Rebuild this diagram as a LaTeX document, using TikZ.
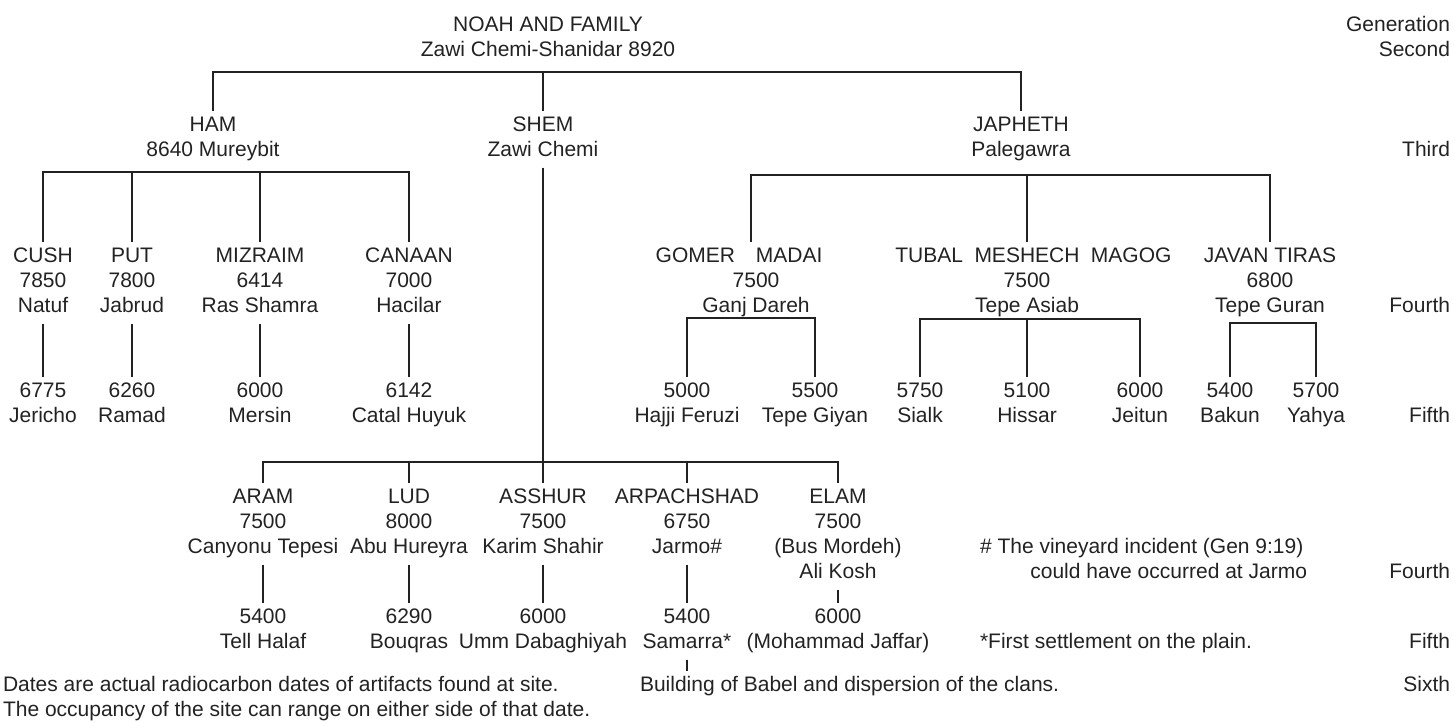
\documentclass[tikz,border=0pt]{standalone}
\usepackage{fontspec}
\setmainfont{Liberation Sans}
\definecolor{ink}{HTML}{222222}
\newcommand\fsz{\fontsize{15.75pt}{18.75pt}\selectfont}
\begin{document}
\begin{tikzpicture}[x=0.75pt,y=-0.75pt,
  every node/.style={font=\fsz,text=ink,inner sep=0pt,outer xsep=0pt,outer ysep=2.5pt},
  fam/.style={align=center,anchor=north},
  gen/.style={anchor=base east},
  note/.style={anchor=base west},
  link/.style={draw=ink,line width=1.4pt}]
\useasboundingbox (0,0) rectangle (1455,722);

% generation column
\node[gen] (g0) at (1450,31.5) {Generation};
\node[gen] (g2) at (1450,56.5) {Second};
\node[gen] (g3) at (1450,156.5) {Third};
\node[gen] (g4) at (1450,312.5) {Fourth};
\node[gen] (g5) at (1450,422.5) {Fifth};
\node[gen] (g4b) at (1450,578.5) {Fourth};
\node[gen] (g5b) at (1450,648.5) {Fifth};
\node[gen] (g6) at (1450,691.5) {Sixth};

% second generation
\node[fam] (noah) at (548,11) {\strut NOAH AND FAMILY\\\strut Zawi Chemi-Shanidar 8920};

% third generation
\node[fam] (ham) at (213,111) {\strut HAM\\\strut 8640 Mureybit};
\node[fam] (shem) at (543,111) {\strut SHEM\\\strut Zawi Chemi};
\node[fam] (japh) at (1021,111) {\strut JAPHETH\\\strut Palegawra};

% fourth generation (Ham, Japheth)
\node[fam] (cush) at (43,242) {\strut CUSH\\\strut 7850\\\strut Natuf};
\node[fam] (put) at (132,242) {\strut PUT\\\strut 7800\\\strut Jabrud};
\node[fam] (mizraim) at (260,242) {\strut MIZRAIM\\\strut 6414\\\strut Ras Shamra};
\node[fam] (canaan) at (409,242) {\strut CANAAN\\\strut 7000\\\strut Hacilar};
\node[fam] (gomer) at (756,242) {\strut\makebox[0pt][r]{GOMER\hspace{15.75pt}}\makebox[0pt][l]{MADAI}\\\strut 7500\\\strut Ganj Dareh};
\node[fam] (tubal) at (1027,242) {\strut\makebox[0pt][r]{TUBAL\hspace{8.6pt}}MESHECH\makebox[0pt][l]{\hspace{8.6pt}MAGOG}\\\strut 7500\\\strut Tepe Asiab};
\node[fam] (javan) at (1270,242) {\strut JAVAN TIRAS\\\strut 6800\\\strut Tepe Guran};

% fifth generation (Ham, Japheth)
\node[fam] (jericho) at (43,377) {\strut 6775\\\strut Jericho};
\node[fam] (ramad) at (132,377) {\strut 6260\\\strut Ramad};
\node[fam] (mersin) at (260,377) {\strut 6000\\\strut Mersin};
\node[fam] (catal) at (409,377) {\strut 6142\\\strut Catal Huyuk};
\node[fam] (hajji) at (687,377) {\strut 5000\\\strut Hajji Feruzi};
\node[fam] (giyan) at (815,377) {\strut 5500\\\strut Tepe Giyan};
\node[fam] (sialk) at (920,377) {\strut 5750\\\strut Sialk};
\node[fam] (hissar) at (1027,377) {\strut 5100\\\strut Hissar};
\node[fam] (jeitun) at (1140,377) {\strut 6000\\\strut Jeitun};
\node[fam] (bakun) at (1230,377) {\strut 5400\\\strut Bakun};
\node[fam] (yahya) at (1316,377) {\strut 5700\\\strut Yahya};

% fourth generation (Shem)
\node[fam] (aram) at (263,483) {\strut ARAM\\\strut 7500\\\strut Canyonu Tepesi};
\node[fam] (lud) at (409,483) {\strut LUD\\\strut 8000\\\strut Abu Hureyra};
\node[fam] (asshur) at (543,483) {\strut ASSHUR\\\strut 7500\\\strut Karim Shahir};
\node[fam] (arpa) at (687,483) {\strut ARPACHSHAD\\\strut 6750\\\strut Jarmo\#};
\node[fam] (elam) at (838,483) {\strut ELAM\\\strut 7500\\\strut (Bus Mordeh)\\\strut Ali Kosh};

% fifth generation (Shem)
\node[fam] (halaf) at (263,603) {\strut 5400\\\strut Tell Halaf};
\node[fam] (bouqras) at (409,603) {\strut 6290\\\strut Bouqras};
\node[fam] (umm) at (543,603) {\strut 6000\\\strut Umm Dabaghiyah};
\node[fam] (samarra) at (687,603) {\strut 5400\\\strut Samarra*};
\node[fam] (jaffar) at (838,603) {\strut 6000\\\strut (Mohammad Jaffar)};

% sixth generation and notes
\node[note] (babel) at (640,691.5) {\strut Building of Babel and dispersion of the clans.};
\node[note] (vine1) at (980,553.5) {\# The vineyard incident (Gen 9:19)};
\node[anchor=base east] (vine2) at (1307,578.5) {could have occurred at Jarmo};
\node[note] (settle) at (980,648.5) {*First settlement on the plain.};
\node[anchor=north west,align=left] (dates) at (3,671) {\strut Dates are actual radiocarbon dates of artifacts found at site.\\\strut The occupancy of the site can range on either side of that date.};

% connectors
\coordinate (top) at (543,72);
\draw[link] (ham.north) -- (ham.north |- top) -- (japh.north |- top) -- (japh.north);
\draw[link] (top) -- (shem.north);

\coordinate (hb) at (213,172);
\draw[link] (cush.north) -- (cush.north |- hb) -- (canaan.north |- hb) -- (canaan.north);
\draw[link] (put.north) -- (put.north |- hb);
\draw[link] (mizraim.north) -- (mizraim.north |- hb);

\coordinate (jb) at (1021,175);
\coordinate (gtop) at ([xshift=-3.5pt]gomer.north);
\draw[link] (gtop) -- (gtop |- jb) -- (javan.north |- jb) -- (javan.north);
\draw[link] (tubal.north) -- (tubal.north |- jb);

\draw[link] (cush.south) -- (jericho.north);
\draw[link] (put.south) -- (ramad.north);
\draw[link] (mizraim.south) -- (mersin.north);
\draw[link] (canaan.south) -- (catal.north);

\coordinate (gb) at (750,318);
\draw[link] (hajji.north) -- (hajji.north |- gb) -- (giyan.north |- gb) -- (giyan.north);
\coordinate (tb) at (1027,319);
\draw[link] (sialk.north) -- (sialk.north |- tb) -- (jeitun.north |- tb) -- (jeitun.north);
\draw[link] (hissar.north) -- (hissar.north |- tb);
\coordinate (vb) at (1270,323);
\draw[link] (bakun.north) -- (bakun.north |- vb) -- (yahya.north |- vb) -- (yahya.north);

\coordinate (sb) at (543,462);
\draw[link] (shem.south) -- (asshur.north);
\draw[link] (aram.north) -- (aram.north |- sb) -- (elam.north |- sb) -- (elam.north);
\draw[link] (lud.north) -- (lud.north |- sb);
\draw[link] (arpa.north) -- (arpa.north |- sb);

\draw[link] (aram.south) -- (halaf.north);
\draw[link] (lud.south) -- (bouqras.north);
\draw[link] (asshur.south) -- (umm.north);
\draw[link] (arpa.south) -- (samarra.north);
\draw[link] (elam.south) -- (jaffar.north);
\draw[link] (samarra.south) -- (samarra.south |- babel.north);
\end{tikzpicture}
\end{document}
